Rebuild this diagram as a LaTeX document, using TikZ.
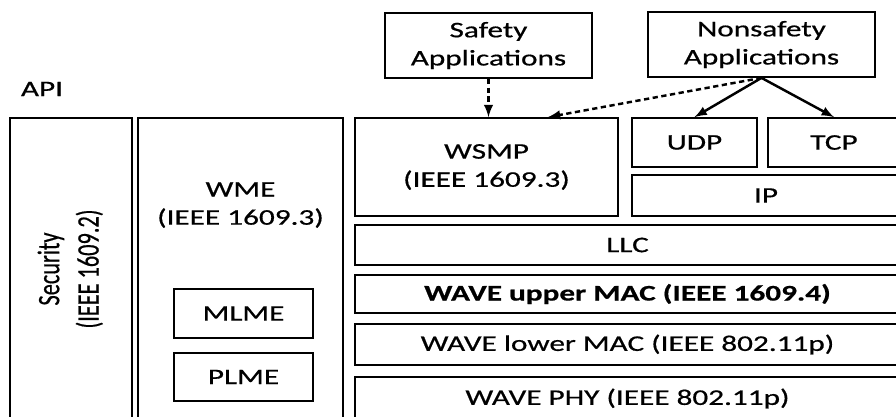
\documentclass[tikz,border=0pt]{standalone}
\usepackage{fontspec}
\usepackage{graphicx}
\setmainfont{Carlito}[FakeStretch=1.4,FakeBold=0.6]
\newfontfamily\secfont{Carlito}[FakeBold=0.6]

\begin{document}
\begin{tikzpicture}[x=0.02cm,y=-0.02cm,
font=\fontsize{12.7}{16}\selectfont,
line width=1pt,
app/.style={minimum width=#1,minimum height=1.3cm,align=center},
sub/.style={minimum width=2.78cm,minimum height=0.97cm},
layer/.style={minimum width=10.9cm,minimum height=#1},
link/.style={-latex,line width=1.4pt}]
\tikzstyle{every node}=[rectangle,draw,inner sep=0pt]
\useasboundingbox (0,0) rectangle (896,416);

% applications
\node[app=4.14cm] (Safety) at (488.5,45.5) {Safety\\Applications};
\node[app=4.54cm] (Nonsafety) at (761.5,44.5) {Nonsafety\\Applications};
\node[draw=none] (API) at (42,89) {API};

% management and security planes
\node[rotate=90,minimum width=6.04cm,minimum height=2.44cm,
  font=\secfont\fontsize{12.7}{16}\selectfont] (Security) at (71,269)
  {\scalebox{1}[1.4]{\begin{tabular}{@{}c@{}}Security\\(IEEE 1609.2)\end{tabular}}};
\node[minimum width=4.1cm,minimum height=6.04cm] (WME) at (240.5,269) {};
\node[draw=none,align=center] (WMEtext) at (240.5,205) {WME\\(IEEE 1609.3)};
\node[sub] (MLME) at (243.5,313.5) {MLME};
\node[sub] (PLME) at (243.5,377) {PLME};

% data plane
\node[minimum width=5.26cm,minimum height=1.96cm,align=center] (WSMP) at (486.5,167) {WSMP\\(IEEE 1609.3)};
\node[minimum width=2.5cm,minimum height=0.98cm] (UDP) at (694.5,142.5) {UDP};
\node[minimum width=2.64cm,minimum height=0.98cm] (TCP) at (834,142.5) {TCP};
\node[minimum width=5.36cm,minimum height=0.82cm] (IP) at (766,195.5) {IP};
\node[layer=0.8cm] (LLC) at (627.5,245) {LLC};
\node[layer=0.76cm,font=\fontsize{12.7}{16}\selectfont\bfseries] (UpperMAC) at (627.5,294) {WAVE upper MAC (IEEE 1609.4)};
\node[layer=0.82cm] (LowerMAC) at (627.5,344.5) {WAVE lower MAC (IEEE 802.11p)};
\node[layer=0.86cm] (PHY) at (627.5,398.5) {WAVE PHY (IEEE 802.11p)};

% arrows
\draw[link,densely dashed] (Safety.south) -- (Safety.south |- WSMP.north);
\draw[link,densely dashed] (Nonsafety.south) -- ([xshift=1.23cm]WSMP.north);
\draw[link] (Nonsafety.south) -- (UDP.north);
\draw[link] (Nonsafety.south) -- (TCP.north);
\end{tikzpicture}
\end{document}
